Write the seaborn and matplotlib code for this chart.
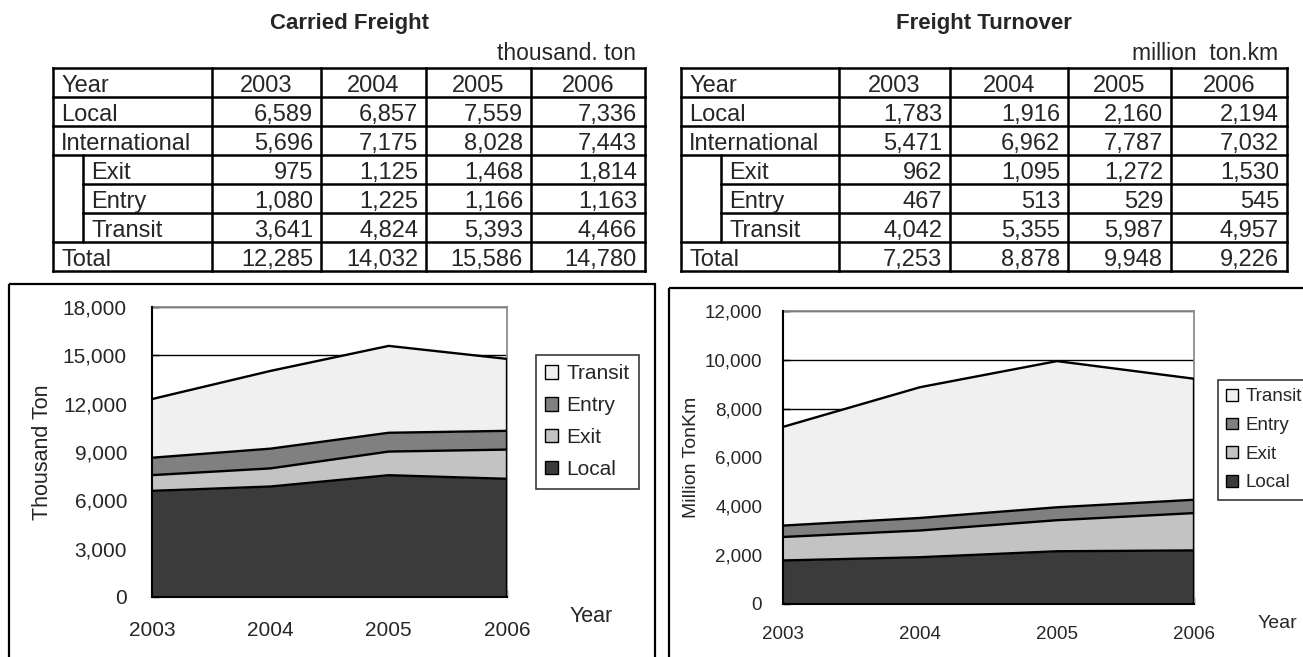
import numpy as np
import pandas as pd
import matplotlib
matplotlib.use("Agg")
import matplotlib.pyplot as plt
import seaborn as sns
from matplotlib.patches import Rectangle, Patch

# ---------------- data ----------------
years = [2003, 2004, 2005, 2006]
stack_order = ["Local", "Exit", "Entry", "Transit"]

cf_local = [6589, 6857, 7559, 7336]
cf_international = [5696, 7175, 8028, 7443]
cf_exit = [975, 1125, 1468, 1814]
cf_entry = [1080, 1225, 1166, 1163]
cf_transit = [3641, 4824, 5393, 4466]
cf_total = [12285, 14032, 15586, 14780]

ft_local = [1783, 1916, 2160, 2194]
ft_international = [5471, 6962, 7787, 7032]
ft_exit = [962, 1095, 1272, 1530]
ft_entry = [467, 513, 529, 545]
ft_transit = [4042, 5355, 5987, 4957]
ft_total = [7253, 8878, 9948, 9226]

cf_yticks = [0, 3000, 6000, 9000, 12000, 15000, 18000]
ft_yticks = [0, 2000, 4000, 6000, 8000, 10000, 12000]

layer_colors = {"Local": "#3b3b3b", "Exit": "#c3c3c3",
                "Entry": "#808080", "Transit": "#f0f0f0"}

# ---------------- figure ----------------
W, H = 1303, 657
sns.set_theme(style="white")
plt.rcParams["font.family"] = ["Liberation Sans", "DejaVu Sans"]

fig = plt.figure(figsize=(W / 100, H / 100), dpi=100)
fig.patch.set_facecolor("white")

# pixel-space canvas for the tables and frames
bg = fig.add_axes([0, 0, 1, 1])
bg.set_xlim(0, W)
bg.set_ylim(H, 0)
bg.axis("off")


def draw_table(x_edges, indent_x, top, row_h, title, unit, unit_right,
               local, intl, exit_, entry, transit, total):
    rows = [("Year", None, False), ("Local", local, False),
            ("International", intl, False), ("Exit", exit_, True),
            ("Entry", entry, True), ("Transit", transit, True),
            ("Total", total, False)]
    n = len(rows)
    left, right = x_edges[0], x_edges[-1]
    lw = 1.8
    ys = [top + row_h * i for i in range(n + 1)]
    # horizontal rules
    for i, y in enumerate(ys):
        inner = 0 < i < n and rows[i][2] and rows[i - 1][2]
        bg.plot([indent_x if inner else left, right], [y, y],
                color="black", lw=lw, solid_capstyle="projecting")
    # vertical rules
    for x in x_edges:
        bg.plot([x, x], [ys[0], ys[-1]], color="black", lw=lw,
                solid_capstyle="projecting")
    sub_rows = [i for i, r in enumerate(rows) if r[2]]
    bg.plot([indent_x, indent_x], [ys[sub_rows[0]], ys[sub_rows[-1] + 1]],
            color="black", lw=lw)
    fs = 17
    for i, (label, vals, sub) in enumerate(rows):
        yc = (ys[i] + ys[i + 1]) / 2 + 1
        lx = (indent_x if sub else left) + 8
        bg.text(lx, yc, label, ha="left", va="center_baseline", fontsize=fs)
        for j in range(4):
            if vals is None:
                bg.text((x_edges[j + 1] + x_edges[j + 2]) / 2, yc,
                        str(years[j]), ha="center", va="center_baseline",
                        fontsize=fs)
            else:
                bg.text(x_edges[j + 2] - 8, yc, f"{vals[j]:,}",
                        ha="right", va="center_baseline", fontsize=fs)
    bg.text((left + right) / 2, 23, title, ha="center", va="center",
            fontsize=16, fontweight="bold")
    bg.text(unit_right, 54, unit, ha="right", va="center", fontsize=16.5)


draw_table([53, 212, 321, 426, 531, 645], 83, 68, 29, "Carried Freight",
           "thousand. ton", 636,
           cf_local, cf_international, cf_exit, cf_entry, cf_transit, cf_total)
draw_table([681, 839, 950, 1068, 1171, 1287], 721, 68, 29, "Freight Turnover",
           "million  ton.km", 1278,
           ft_local, ft_international, ft_exit, ft_entry, ft_transit, ft_total)

# chart frames
bg.add_patch(Rectangle((9, 284), 646, 400, fill=False, ec="black", lw=1.6))
bg.add_patch(Rectangle((669, 288), 700, 400, fill=False, ec="black", lw=1.6))


def px_rect(x0, y0, x1, y1):
    return [x0 / W, 1 - y1 / H, (x1 - x0) / W, (y1 - y0) / H]


def draw_chart(rect, layers, yticks, ylabel, ylabel_xy, year_xy, legend_xy,
               fs, legend_fs, legend_spacing, ypad, xpad):
    ax = fig.add_axes(px_rect(*rect))
    ax.set_facecolor("white")
    base = np.zeros(len(years))
    recs = []
    for name, vals in layers:
        top_ = base + np.asarray(vals, dtype=float)
        ax.fill_between(years, base, top_, color=layer_colors[name],
                        lw=0, zorder=2)
        recs += [{"year": y, "level": v, "layer": name}
                 for y, v in zip(years, top_)]
        base = top_
    df = pd.DataFrame(recs)
    sns.lineplot(data=df, x="year", y="level", units="layer",
                 estimator=None, color="black", lw=1.7, ax=ax,
                 zorder=3, legend=False)
    ax.vlines(years[-1], 0, base[-1], color="black", lw=1.7, zorder=3)

    ax.set_xlim(years[0], years[-1])
    ax.set_ylim(yticks[0], yticks[-1])
    ax.set_xticks(years)
    ax.set_xticklabels([str(y) for y in years], fontsize=fs)
    ax.set_yticks(yticks)
    ax.set_yticklabels([f"{v:,}" for v in yticks], fontsize=fs)
    ax.grid(axis="y", color="black", lw=1.0, zorder=1)
    ax.grid(axis="x", visible=False)
    ax.set_axisbelow(True)
    ax.tick_params(axis="both", direction="in", length=5, width=1,
                   color="black", left=True, bottom=True)
    ax.tick_params(axis="y", pad=ypad)
    ax.tick_params(axis="x", pad=xpad)
    ax.set_xlabel("")
    ax.set_ylabel("")
    for s in ("left", "bottom"):
        ax.spines[s].set_color("black")
        ax.spines[s].set_linewidth(1.5)
        ax.spines[s].set_zorder(4)
    for s in ("top", "right"):
        ax.spines[s].set_color("#8c8c8c")
        ax.spines[s].set_linewidth(1.3)

    fig.text(ylabel_xy[0] / W, 1 - ylabel_xy[1] / H, ylabel, rotation=90,
             ha="center", va="center", fontsize=fs + 0.5)
    fig.text(year_xy[0] / W, 1 - year_xy[1] / H, "Year",
             ha="center", va="center", fontsize=fs + 0.5)

    names = [n for n, _ in layers][::-1]
    handles = [Patch(facecolor=layer_colors[n], edgecolor="black", lw=1.0)
               for n in names]
    leg = fig.legend(handles, names, loc="upper left",
                     bbox_to_anchor=(legend_xy[0] / W, 1 - legend_xy[1] / H),
                     bbox_transform=fig.transFigure, frameon=True,
                     fancybox=False, edgecolor="#3a3a3a", facecolor="white",
                     framealpha=1, fontsize=legend_fs, handlelength=0.6,
                     handleheight=0.6, handletextpad=0.4,
                     labelspacing=legend_spacing, borderpad=0.45,
                     borderaxespad=0)
    leg.get_frame().set_linewidth(1.2)
    return ax


draw_chart((152, 307, 507, 597),
           [("Local", cf_local), ("Exit", cf_exit),
            ("Entry", cf_entry), ("Transit", cf_transit)],
           cf_yticks, "Thousand Ton", (42, 452), (591, 617), (536, 355),
           fs=15, legend_fs=15, legend_spacing=0.62, ypad=18, xpad=17)

draw_chart((783, 311, 1194, 604),
           [("Local", ft_local), ("Exit", ft_exit),
            ("Entry", ft_entry), ("Transit", ft_transit)],
           ft_yticks, "Million TonKm", (691, 457), (1277, 623), (1218, 380),
           fs=13.5, legend_fs=13.5, legend_spacing=0.62, ypad=15, xpad=16)

fig.savefig("out.png", dpi=100, facecolor="white")
